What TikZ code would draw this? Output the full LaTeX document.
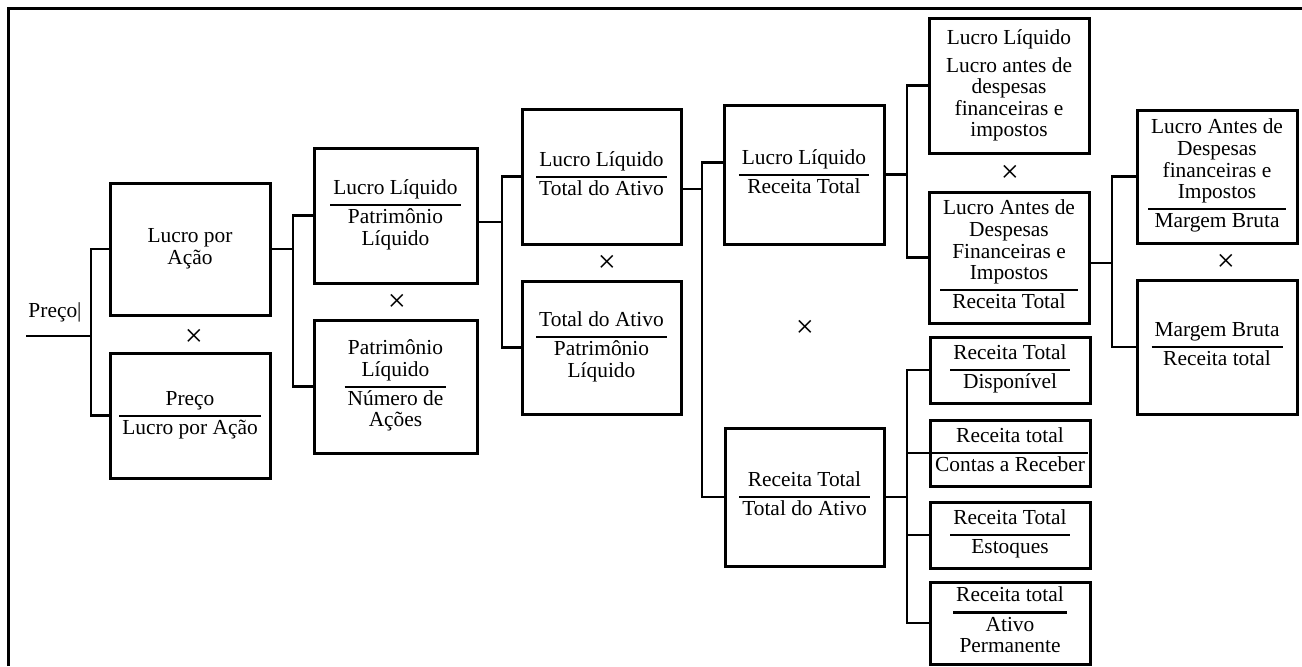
\documentclass[tikz,border=0pt]{standalone}
\usepackage{fontspec}
\setmainfont{Liberation Serif}
\usepackage{array}
\usetikzlibrary{positioning}

\setlength{\arrayrulewidth}{1.1pt}
% numerator over denominator with a rule between
\newcommand{\razao}[2]{\begin{tabular}{@{\hspace{1.5pt}}c@{\hspace{1.5pt}}}#1\\[1.5pt]\hline\rule{0pt}{8.7pt}#2\end{tabular}}

\begin{document}
\begin{tikzpicture}[
    x=0.5pt, y=-0.5pt,
    box/.style={rectangle, draw, line width=1.5pt, align=center, inner sep=1pt, minimum width=80pt, minimum height=66.5pt, font=\fontsize{10.7}{10.8}\selectfont},
    small/.style={box, minimum height=33pt},
    link/.style={line width=1.3pt},
    vezes/.style={font=\fontsize{16}{16}\selectfont},
    texto/.style={font=\fontsize{10.7}{10.8}\selectfont}
]
\useasboundingbox (0,0) rectangle (1302,666);

% Frame
\draw[line width=1.5pt] (8,666) -- (8,8) -- (1302,8);

% Price
\node[texto] (preco) at (55,312) {Preço|};
\coordinate (p0) at (26,336);
\coordinate (b0) at (91,336);

% Column 1
\node[box, minimum height=66pt] (lpa) at (190,249) {Lucro por\\Ação};
\node[box, minimum height=62.5pt] (pl) at (190,415.5) {\razao{Preço}{Lucro por Ação}};
\node[vezes] (x1) at (194,338) {×};

% Column 2
\node[box, minimum width=81.5pt, minimum height=67.5pt] (llpl) at (395.5,215.5) {\razao{Lucro Líquido}{Patrimônio\\Líquido}};
\node[box, minimum width=81.5pt] (plna) at (395.5,386.5) {\razao{Patrimônio\\Líquido}{Número de\\Ações}};
\node[vezes] (x2) at (397,303) {×};
\coordinate (b1) at (293,249);

% Column 3
\node[box, minimum width=79.5pt, minimum height=67.5pt] (llta) at (601.5,176.5) {\razao{Lucro Líquido}{Total do Ativo}};
\node[box, minimum width=79.5pt] (tapl) at (601.5,347.5) {\razao{Total do Ativo}{Patrimônio\\Líquido}};
\node[vezes] (x3) at (607,264) {×};
\coordinate (b2) at (502,222);

% Column 4
\node[box, minimum height=69.5pt] (llrt) at (804,174.5) {\razao{Lucro Líquido}{Receita Total}};
\node[box, minimum width=79.5pt, minimum height=69pt] (rtta) at (804.5,497) {\razao{Receita Total}{Total do Ativo}};
\node[vezes] (x4) at (805,329) {×};
\coordinate (b3) at (702,189);

% Column 5
\node[box, minimum height=67.5pt] (lllajir) at (1009,85.5) {Lucro Líquido\\[3pt]Lucro antes de\\despesas\\financeiras e\\impostos};
\node[box, minimum height=65.5pt] (lajirrt) at (1009,257.5) {\razao{Lucro Antes de\\Despesas\\Financeiras e\\Impostos}{Receita Total}};
\node[vezes] (x5) at (1010,174) {×};
\coordinate (b4) at (907,174.5);

\node[small] (rtdisp) at (1010,370) {\razao{Receita Total}{Disponível}};
\node[small] (rtcr) at (1010,453) {\razao{Receita total}{Contas a Receber}};
\node[small] (rtest) at (1010,535) {\razao{Receita Total}{Estoques}};
\node[small, minimum height=41pt] (rtap) at (1010,623) {\razao{Receita total}{Ativo\\Permanente}};
\coordinate (b6) at (907,497);

% Column 6
\node[box] (lajirmb) at (1217,176.5) {\razao{Lucro Antes de\\Despesas\\financeiras e\\Impostos}{Margem Bruta}};
\node[box, minimum height=67pt] (mbrt) at (1217,347) {\razao{Margem Bruta}{Receita total}};
\node[vezes] (x6) at (1226,263) {×};
\coordinate (b5) at (1112,263);

% Links
\draw[link] (p0) -- (b0);
\draw[link] (lpa.west) -| (b0) |- (pl.west);
\draw[link] (lpa.east) -- (b1);
\draw[link] (llpl.west) -| (b1) |- (plna.west);
\draw[link] ([yshift=-3.25pt]llpl.east) -- (b2);
\draw[link] (llta.west) -| (b2) |- (tapl.west);
\draw[link] ([yshift=-6.25pt]llta.east) -- (b3);
\draw[link] ([yshift=6pt]llrt.west) -| (b3) |- (rtta.west);
\draw[link] (llrt.east) -- (b4);
\draw[link] (lllajir.west) -| (b4) |- (lajirrt.west);
\draw[link] ([yshift=-2.75pt]lajirrt.east) -- (b5);
\draw[link] (lajirmb.west) -| (b5) |- (mbrt.west);
\draw[link] (rtta.east) -- (b6);
\draw[link] (rtdisp.west) -| (b6) |- (rtap.west);
\draw[link] (rtcr.west) -- (rtcr.west -| b6);
\draw[link] (rtest.west) -- (rtest.west -| b6);

\end{tikzpicture}
\end{document}
